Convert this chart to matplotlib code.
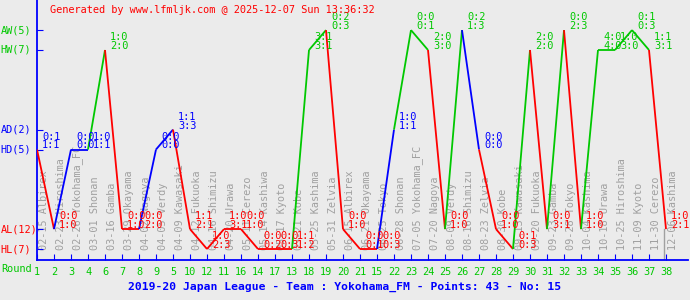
import matplotlib
matplotlib.use('Agg')
import matplotlib.pyplot as plt
import matplotlib.transforms as mtransforms

# match data, in the order shown on the x axis
rounds = [1, 2, 3, 4, 6, 7, 8, 9, 5, 10, 12, 11, 16, 14, 17, 13, 18, 19, 20, 21,
          15, 22, 23, 24, 25, 26, 27, 28, 29, 30, 31, 32, 33, 34, 35, 36, 37, 38]
dates = ['02-15', '02-23', '02-26', '03-01', '03-16', '03-29', '04-02', '04-05',
         '04-09', '04-12', '04-16', '04-20', '05-11', '05-14', '05-17', '05-21',
         '05-25', '05-31', '06-15', '06-21', '06-25', '06-28', '07-05', '07-20',
         '08-09', '08-16', '08-23', '08-30', '09-13', '09-20', '09-23', '09-28',
         '10-04', '10-18', '10-25', '11-09', '11-30', '12-06']
opponents = ['Albirex', 'Hiroshima', 'Yokohama_FC', 'Shonan', 'Gamba', 'Okayama',
             'Nagoya', 'Verdy', 'Kawasaki', 'Fukuoka', 'Shimizu', 'Urawa', 'Cerezo',
             'Kashiwa', 'Kyoto', 'Kobe', 'Kashima', 'Zelvia', 'Albirex', 'Okayama',
             'Tokyo', 'Shonan', 'Yokohama_FC', 'Nagoya', 'Verdy', 'Shimizu', 'Zelvia',
             'Kobe', 'Kawasaki', 'Fukuoka', 'Gamba', 'Tokyo', 'Kashima', 'Urawa',
             'Hiroshima', 'Kyoto', 'Cerezo', 'Kashima']
results = ['HD', 'AL', 'HD', 'HD', 'HW', 'AL', 'AL', 'HD', 'AD', 'AL', 'HL', 'AL',
           'AL', 'HL', 'HL', 'HL', 'HW', 'AW', 'AL', 'HL', 'HL', 'AD', 'AW', 'HW',
           'AL', 'AW', 'HD', 'AL', 'HL', 'HW', 'AL', 'AW', 'AL', 'HW', 'HW', 'AW',
           'HW', 'AL']
half_time = ['0:1', '0:0', '0:0', '1:0', '1:0', '0:0', '0:0', '0:0', '1:1', '1:1',
             '1:0', '1:0', '0:0', '0:0', '0:0', '1:1', '3:1', '0:2', '0:0', '0:0',
             '0:0', '1:0', '0:0', '2:0', '0:0', '0:2', '0:0', '0:0', '0:1', '2:0',
             '0:0', '0:0', '1:0', '4:0', '1:0', '0:1', '1:1', '1:0']
full_time = ['1:1', '1:0', '0:0', '1:1', '2:0', '1:0', '2:0', '0:0', '3:3', '2:1',
             '2:3', '3:1', '1:0', '0:2', '0:3', '1:2', '3:1', '0:3', '1:0', '0:1',
             '0:3', '1:1', '0:1', '3:0', '1:0', '1:3', '0:0', '1:0', '0:3', '2:0',
             '3:1', '2:3', '1:0', '4:0', '3:0', '0:3', '3:1', '2:1']

level_names = ['HL', 'AL', 'HD', 'AD', 'HW', 'AW']
level_values = [0, 1, 5, 6, 10, 11]

GREEN = '#00c800'
RED = '#ff0000'
BLUE = '#0000ff'
GRAY = '#a0a0a0'
BG = '#ebebeb'
col = {'W': GREEN, 'D': BLUE, 'L': RED}
MONO = 'DejaVu Sans Mono'
FS = 7.4

lvl = dict(zip(level_names, level_values))
ys = [lvl[r] for r in results]
xs = list(range(len(results)))

fig = plt.figure(figsize=(6.9, 3.0), dpi=100, facecolor=BG)
ax = fig.add_axes([37 / 690, 40 / 300, 651 / 690, 260 / 300])
ax.set_facecolor(BG)
ax.set_xlim(0, 651 / 17.0)
ax.set_ylim(-11 / 19.9, 249 / 19.9)

# line segments coloured by the result they lead into
for i in range(1, len(xs)):
    ax.plot([xs[i - 1], xs[i]], [ys[i - 1], ys[i]], color=col[results[i][1]],
            lw=1.3, solid_capstyle='butt', zorder=3)

# marker for the last played match
ax.plot([xs[-1] - 0.1, xs[-1] - 0.1], [ys[-1], -11 / 19.9], color=GRAY, lw=1, zorder=2)

# half time / full time scores
for x, y, r, h, f in zip(xs, ys, results, half_time, full_time):
    c = col[r[1]]
    ax.annotate(f, (x, y), xytext=(5, 1), textcoords='offset pixels',
                ha='left', va='baseline', color=c, fontsize=FS, family=MONO, zorder=4)
    ax.annotate(h, (x, y), xytext=(5, 10), textcoords='offset pixels',
                ha='left', va='baseline', color=c, fontsize=FS, family=MONO, zorder=4)

# rotated date + opponent labels
for x, d, o in zip(xs, dates, opponents):
    ax.annotate(d + ' ' + o, (x, 10 / 260), xycoords=('data', 'axes fraction'),
                xytext=(7, 0), textcoords='offset pixels', rotation=90,
                ha='center', va='bottom', color=GRAY, fontsize=FS, family=MONO,
                zorder=1)

# axes styling
for s in ['top', 'right']:
    ax.spines[s].set_visible(False)
for s in ['left', 'bottom']:
    ax.spines[s].set_color(BLUE)
    ax.spines[s].set_linewidth(1.3)

counts = {n: results.count(n) for n in level_names}
ax.set_yticks(level_values)
ax.set_yticklabels([])
ax.tick_params(axis='y', direction='in', length=4, color=BLUE)
ylab_tr = mtransforms.blended_transform_factory(fig.transFigure, ax.transData)
for n, v in zip(level_names, level_values):
    fig.text(0.5 / 690, v, '%s(%d)' % (n, counts[n]), transform=ylab_tr,
             color=col[n[1]], family=MONO, fontsize=FS, ha='left', va='center')

ax.set_xticks(xs)
ax.set_xticklabels([str(r) for r in rounds], color=GREEN, family=MONO, fontsize=FS)
ax.tick_params(axis='x', direction='in', length=4, color=BLUE, pad=5)

fig.text(1 / 690, 1 - 269 / 300, 'Round', color=GREEN, family=MONO, fontsize=FS,
         ha='left', va='center')
fig.text(50 / 690, 1 - 10 / 300, 'Generated by www.lfmljk.com @ 2025-12-07 Sun 13:36:32',
         color=RED, family=MONO, fontsize=FS, ha='left', va='center')
fig.text(345 / 690, 1 - 287 / 300,
         '2019-20 Japan League - Team : Yokohama_FM - Points: %d - No: 15'
         % (3 * (counts['HW'] + counts['AW']) + counts['HD'] + counts['AD']),
         color=BLUE, family=MONO, fontsize=8.2, fontweight='bold', ha='center', va='center')

fig.savefig('out.png', dpi=100, facecolor=BG)
